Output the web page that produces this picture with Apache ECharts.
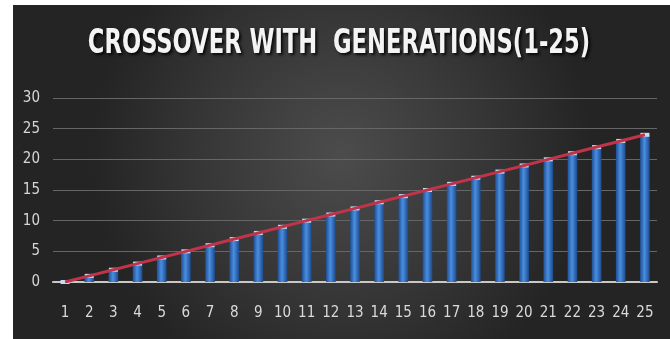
<!DOCTYPE html>
<html>
<head>
<meta charset="utf-8">
<script src="https://cdn.jsdelivr.net/npm/echarts@6/dist/echarts.min.js"></script>
<style>
  html, body { margin: 0; padding: 0; background: #ffffff; }
  #chart { position: absolute; left: 13px; top: 5px; width: 657px; height: 334px; }
</style>
</head>
<body>
<div id="chart"></div>
<script>
// Generation numbers along the x axis
const generations = ['1','2','3','4','5','6','7','8','9','10','11','12','13','14','15','16','17','18','19','20','21','22','23','24','25'];
// Crossover count per generation (bars)
const crossoverBars = [0,1,2,3,4,5,6,7,8,9,10,11,12,13,14,15,16,17,18,19,20,21,22,23,24];
// Crossover trend (line)
const crossoverLine = [0,1,2,3,4,5,6,7,8,9,10,11,12,13,14,15,16,17,18,19,20,21,22,23,24];
// Y axis range
const yMin = 0, yMax = 30, yStep = 5;
const chartTitle = 'CROSSOVER WITH  GENERATIONS(1-25)';

const chart = echarts.init(document.getElementById('chart'));
const labelFont = '"DejaVu Sans Condensed", "DejaVu Sans", sans-serif';

chart.setOption({
  backgroundColor: {
    type: 'radial', x: 0.5, y: 0.45, r: 0.75,
    colorStops: [
      { offset: 0, color: '#4c4c4c' },
      { offset: 0.6, color: '#353535' },
      { offset: 1, color: '#242424' }
    ]
  },
  animation: false,
  // Tall, narrow heading: a condensed face squeezed horizontally
  graphic: [{
    type: 'text',
    x: 326,
    y: 22,
    scaleX: 0.74,
    style: {
      text: chartTitle,
      align: 'center',
      verticalAlign: 'top',
      fill: '#f4f4f4',
      font: 'bold 34px ' + labelFont,
      textShadowColor: 'rgba(0,0,0,0.85)',
      textShadowBlur: 3,
      textShadowOffsetX: 2,
      textShadowOffsetY: 2
    }
  }],
  grid: { left: 40, right: 13, top: 93, bottom: 57 },
  xAxis: {
    type: 'category',
    data: generations,
    axisLine: { lineStyle: { color: '#c8c8c8', width: 2 } },
    axisTick: { show: false },
    axisLabel: { color: '#dadada', fontFamily: labelFont, fontSize: 15, margin: 24 }
  },
  yAxis: {
    type: 'value',
    min: yMin, max: yMax, interval: yStep,
    axisLine: { show: false },
    axisTick: { show: false },
    axisLabel: { color: '#d6d6d6', fontFamily: labelFont, fontSize: 15, margin: 13 },
    splitLine: { lineStyle: { color: '#666666', width: 1 } }
  },
  series: [
    {
      type: 'bar',
      data: crossoverBars,
      barWidth: '40%',
      itemStyle: {
        color: {
          type: 'linear', x: 0, y: 0, x2: 1, y2: 0,
          colorStops: [
            { offset: 0, color: '#1f4f95' },
            { offset: 0.45, color: '#4a8ee0' },
            { offset: 1, color: '#1d4a8c' }
          ]
        }
      },
      z: 2
    },
    {
      type: 'pictorialBar',
      data: crossoverBars,
      symbol: 'ellipse',
      symbolSize: [9, 4],
      symbolPosition: 'end',
      symbolOffset: [0, '-50%'],
      barGap: '-100%',
      itemStyle: { color: '#c9dcf5' },
      z: 3
    },
    {
      type: 'line',
      data: crossoverLine,
      symbol: 'none',
      lineStyle: { color: '#c0344a', width: 3 },
      z: 4
    }
  ]
});
</script>
</body>
</html>
